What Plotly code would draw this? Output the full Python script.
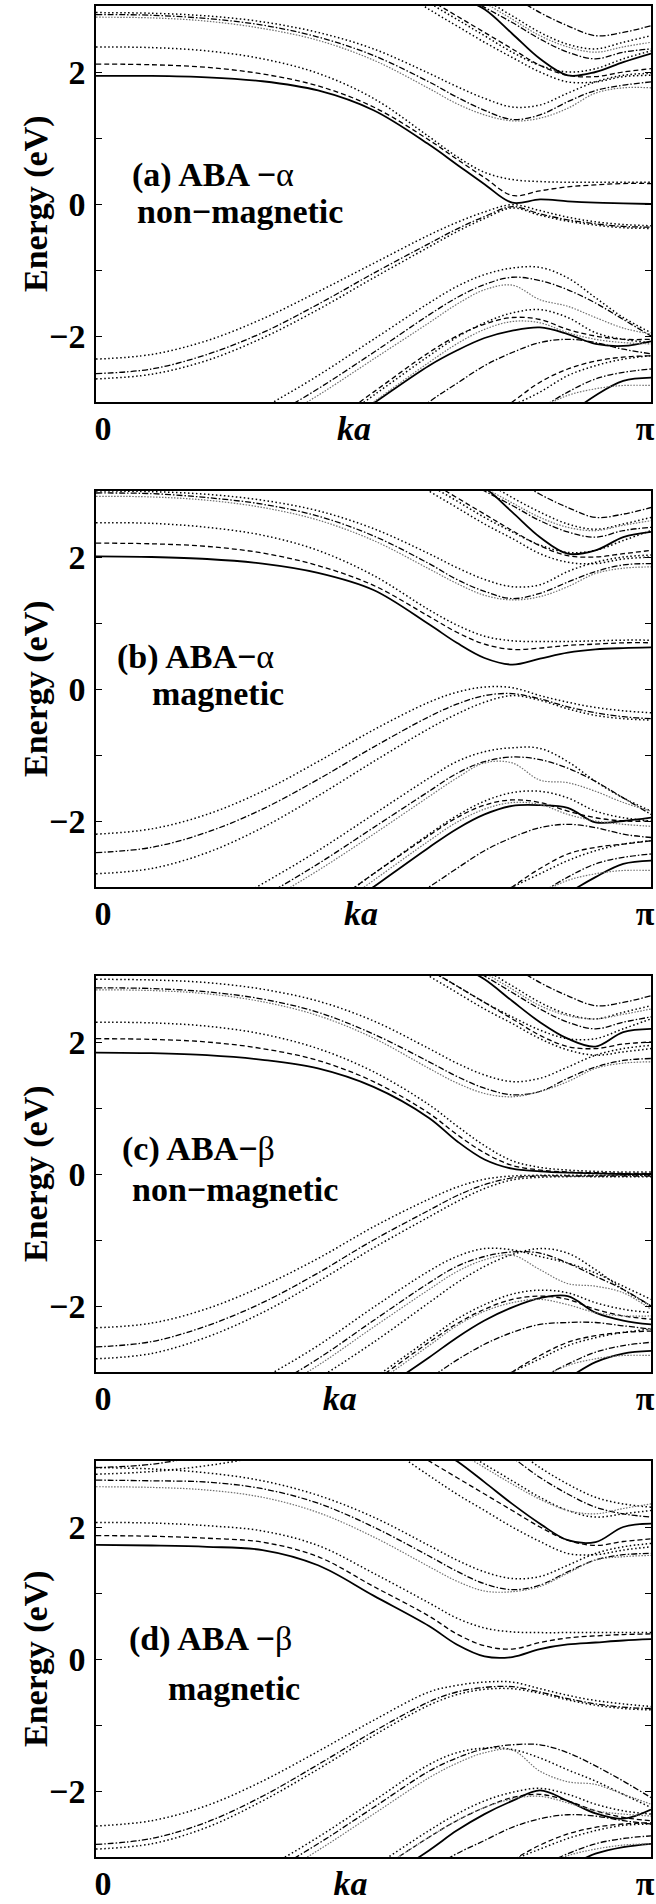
import math
import plotly.graph_objects as go
from plotly.subplots import make_subplots

# k grid in units of pi
K = [0, 0.1, 0.2, 0.3, 0.4, 0.5, 0.6, 0.65, 0.7, 0.75, 0.8, 0.85, 0.9, 0.95, 1.0]

# ---------------- panel (a) ABA-alpha non-magnetic ----------------
A_SOLID = [
    [1.94, 1.94, 1.92, 1.86, 1.72, 1.42, 0.9, 0.6, 0.3, 0.02, 0.07, 0.04, 0.02, 0.01, 0.0],
    [5.0, 4.9, 4.7, 4.4, 4.1, 3.75, 3.35, 3.15, 2.95, 2.58, 2.2, 1.95, 2.0, 2.15, 2.28],
    [-5.0, -4.7, -4.4, -4.05, -3.6, -3.02, -2.45, -2.22, -2.03, -1.92, -1.87, -1.97, -2.12, -2.15, -2.08],
    [-6.0, -5.8, -5.6, -5.4, -5.2, -4.9, -4.5, -4.3, -4.0, -3.75, -3.5, -3.2, -2.9, -2.68, -2.63],
]
A_DASH = [
    [2.12, 2.11, 2.07, 1.97, 1.79, 1.47, 0.97, 0.68, 0.4, 0.13, 0.2, 0.26, 0.29, 0.31, 0.31],
    [5.0, 4.85, 4.65, 4.4, 4.05, 3.6, 3.1, 2.85, 2.6, 2.35, 2.1, 1.95, 1.93, 2.0, 2.05],
    [-5.0, -4.7, -4.35, -3.95, -3.45, -2.85, -2.25, -2.0, -1.82, -1.72, -1.75, -1.9, -2.0, -2.05, -2.05],
    [-6.0, -5.8, -5.5, -5.2, -4.8, -4.4, -3.9, -3.6, -3.3, -3.0, -2.7, -2.5, -2.38, -2.32, -2.3],
]
A_DOT = [
    [2.38, 2.37, 2.32, 2.2, 1.98, 1.6, 1.02, 0.72, 0.48, 0.37, 0.34, 0.33, 0.33, 0.33, 0.33],
    [2.9, 2.89, 2.85, 2.76, 2.6, 2.35, 1.98, 1.78, 1.6, 1.47, 1.5, 1.68, 1.85, 1.95, 1.98],
    [5.0, 4.9, 4.7, 4.45, 4.1, 3.6, 3.05, 2.8, 2.55, 2.3, 2.1, 2.0, 2.05, 2.2, 2.32],
    [5.2, 5.0, 4.8, 4.5, 4.1, 3.5, 2.95, 2.7, 2.45, 2.22, 2.0, 1.85, 1.85, 1.93, 1.95],
    [6.0, 5.8, 5.5, 5.1, 4.6, 4.1, 3.6, 3.35, 3.1, 2.85, 2.6, 2.42, 2.35, 2.45, 2.55],
    [-2.35, -2.28, -2.07, -1.74, -1.33, -0.9, -0.47, -0.28, -0.12, -0.01, -0.1, -0.2, -0.27, -0.31, -0.33],
    [-2.65, -2.58, -2.37, -2.03, -1.6, -1.12, -0.65, -0.42, -0.22, -0.06, -0.17, -0.26, -0.32, -0.36, -0.37],
    [-4.2, -3.9, -3.6, -3.1, -2.6, -2.05, -1.5, -1.25, -1.07, -0.97, -0.96, -1.12, -1.42, -1.72, -1.95],
    [-5.0, -4.7, -4.4, -4.0, -3.5, -2.9, -2.3, -2.02, -1.8, -1.65, -1.6, -1.72, -1.95, -2.05, -2.1],
    [-6.0, -5.7, -5.4, -5.0, -4.6, -4.2, -3.7, -3.45, -3.2, -3.05, -2.85, -2.6, -2.45, -2.35, -2.3],
]
A_DASHDOT = [
    [2.87, 2.86, 2.81, 2.71, 2.53, 2.25, 1.85, 1.62, 1.42, 1.28, 1.35, 1.55, 1.72, 1.8, 1.85],
    [5.2, 5.0, 4.85, 4.6, 4.3, 3.9, 3.45, 3.22, 2.98, 2.75, 2.5, 2.3, 2.2, 2.3, 2.35],
    [6.3, 6.0, 5.7, 5.3, 4.9, 4.4, 3.9, 3.65, 3.4, 3.15, 2.9, 2.7, 2.55, 2.6, 2.7],
    [-2.57, -2.5, -2.28, -1.95, -1.52, -1.05, -0.6, -0.38, -0.19, -0.04, -0.15, -0.24, -0.3, -0.34, -0.35],
    [-4.4, -4.1, -3.8, -3.3, -2.8, -2.25, -1.68, -1.42, -1.22, -1.11, -1.16, -1.3, -1.5, -1.75, -2.0],
    [-6.0, -5.6, -5.2, -4.7, -4.2, -3.7, -3.0, -2.72, -2.45, -2.25, -2.1, -2.05, -2.1, -2.2, -2.27],
    [-6.5, -6.2, -5.9, -5.5, -5.1, -4.7, -4.2, -3.95, -3.65, -3.35, -3.1, -2.85, -2.65, -2.55, -2.5],
]
A_GREY = [
    [2.83, 2.82, 2.77, 2.66, 2.48, 2.18, 1.75, 1.52, 1.35, 1.26, 1.3, 1.45, 1.68, 1.76, 1.76],
    [5.2, 5.0, 4.85, 4.65, 4.4, 4.0, 3.55, 3.3, 3.05, 2.8, 2.55, 2.38, 2.3, 2.38, 2.45],
    [-4.5, -4.2, -3.9, -3.4, -2.9, -2.35, -1.8, -1.52, -1.3, -1.23, -1.45, -1.55, -1.72, -1.88, -1.97],
    [-5.2, -4.9, -4.55, -4.1, -3.6, -3.0, -2.4, -2.12, -1.9, -1.78, -1.8, -1.95, -2.05, -2.1, -2.12],
    [-6.5, -6.2, -5.9, -5.5, -5.1, -4.7, -4.2, -3.9, -3.6, -3.35, -3.1, -2.9, -2.8, -2.75, -2.75],
]

# ---------------- panel (b) ABA-alpha magnetic ----------------
B_SOLID = [
    [2.01, 2.0, 1.97, 1.9, 1.76, 1.5, 0.98, 0.7, 0.47, 0.37, 0.46, 0.55, 0.6, 0.62, 0.63],
    [5.0, 4.9, 4.7, 4.45, 4.15, 3.8, 3.45, 3.25, 3.05, 2.68, 2.3, 2.05, 2.1, 2.3, 2.38],
    [-5.0, -4.7, -4.4, -4.05, -3.6, -3.0, -2.4, -2.12, -1.9, -1.77, -1.76, -1.8, -2.02, -2.0, -1.95],
    [-6.0, -5.8, -5.6, -5.4, -5.2, -4.9, -4.5, -4.3, -4.0, -3.7, -3.4, -3.1, -2.85, -2.65, -2.6],
]
B_DASH = [
    [2.21, 2.2, 2.16, 2.06, 1.87, 1.57, 1.1, 0.86, 0.68, 0.6, 0.62, 0.66, 0.68, 0.7, 0.7],
    [5.0, 4.85, 4.65, 4.4, 4.05, 3.6, 3.15, 2.9, 2.65, 2.4, 2.17, 2.02, 2.0, 2.05, 2.1],
    [-5.0, -4.7, -4.35, -3.95, -3.4, -2.8, -2.22, -1.95, -1.76, -1.68, -1.72, -1.85, -1.95, -2.0, -2.0],
    [-6.0, -5.8, -5.5, -5.2, -4.8, -4.4, -3.9, -3.6, -3.3, -3.0, -2.72, -2.5, -2.4, -2.35, -2.3],
]
B_DOT = [
    [2.52, 2.51, 2.45, 2.33, 2.1, 1.72, 1.2, 0.97, 0.8, 0.73, 0.72, 0.72, 0.73, 0.74, 0.74],
    [3.0, 2.99, 2.95, 2.86, 2.7, 2.43, 2.05, 1.84, 1.66, 1.55, 1.58, 1.78, 1.92, 2.0, 2.03],
    [5.0, 4.9, 4.7, 4.45, 4.1, 3.65, 3.1, 2.85, 2.6, 2.38, 2.18, 2.07, 2.1, 2.25, 2.4],
    [5.2, 5.0, 4.8, 4.5, 4.1, 3.55, 3.0, 2.75, 2.5, 2.28, 2.05, 1.92, 1.9, 1.97, 2.0],
    [6.0, 5.8, 5.5, 5.1, 4.6, 4.1, 3.65, 3.4, 3.15, 2.9, 2.68, 2.5, 2.42, 2.5, 2.6],
    [-2.2, -2.12, -1.9, -1.55, -1.1, -0.62, -0.2, -0.05, 0.03, 0.02, -0.1, -0.2, -0.28, -0.33, -0.36],
    [-2.8, -2.72, -2.48, -2.1, -1.62, -1.1, -0.6, -0.38, -0.2, -0.1, -0.17, -0.3, -0.4, -0.45, -0.47],
    [-4.0, -3.7, -3.4, -2.95, -2.45, -1.9, -1.35, -1.1, -0.95, -0.89, -0.9, -1.1, -1.4, -1.65, -1.85],
    [-5.0, -4.7, -4.35, -3.9, -3.4, -2.8, -2.2, -1.92, -1.7, -1.57, -1.55, -1.65, -1.85, -1.95, -2.0],
    [-6.0, -5.7, -5.4, -5.0, -4.6, -4.2, -3.7, -3.45, -3.2, -3.0, -2.8, -2.6, -2.45, -2.35, -2.3],
]
B_DASHDOT = [
    [2.97, 2.96, 2.9, 2.8, 2.62, 2.32, 1.9, 1.66, 1.48, 1.37, 1.45, 1.62, 1.78, 1.88, 1.9],
    [5.2, 5.0, 4.85, 4.6, 4.3, 3.9, 3.45, 3.22, 3.0, 2.78, 2.55, 2.38, 2.3, 2.4, 2.45],
    [6.3, 6.0, 5.7, 5.3, 4.9, 4.4, 3.95, 3.7, 3.45, 3.2, 2.95, 2.75, 2.6, 2.65, 2.75],
    [-2.48, -2.4, -2.17, -1.82, -1.37, -0.88, -0.42, -0.23, -0.1, -0.07, -0.15, -0.27, -0.36, -0.42, -0.45],
    [-4.2, -3.9, -3.6, -3.15, -2.65, -2.1, -1.55, -1.28, -1.1, -1.03, -1.07, -1.2, -1.4, -1.65, -1.9],
    [-6.0, -5.5, -5.0, -4.5, -4.0, -3.5, -3.0, -2.72, -2.45, -2.25, -2.1, -2.05, -2.1, -2.2, -2.25],
    [-6.5, -6.2, -5.9, -5.5, -5.1, -4.7, -4.2, -3.95, -3.65, -3.35, -3.1, -2.85, -2.65, -2.55, -2.5],
]
B_GREY = [
    [2.92, 2.91, 2.86, 2.75, 2.56, 2.25, 1.82, 1.6, 1.42, 1.35, 1.4, 1.55, 1.75, 1.83, 1.85],
    [5.2, 5.0, 4.85, 4.65, 4.4, 4.0, 3.55, 3.3, 3.05, 2.82, 2.6, 2.45, 2.4, 2.48, 2.55],
    [-4.3, -4.0, -3.7, -3.25, -2.75, -2.2, -1.63, -1.35, -1.12, -1.12, -1.38, -1.42, -1.55, -1.72, -1.85],
    [-5.1, -4.8, -4.45, -4.0, -3.5, -2.9, -2.3, -2.02, -1.82, -1.72, -1.75, -1.9, -2.0, -2.05, -2.08],
    [-6.5, -6.2, -5.9, -5.5, -5.1, -4.7, -4.2, -3.9, -3.6, -3.35, -3.1, -2.9, -2.8, -2.75, -2.75],
]

# ---------------- panel (c) ABA-beta non-magnetic ----------------
C_SOLID = [
    [1.84, 1.83, 1.8, 1.73, 1.6, 1.32, 0.85, 0.5, 0.22, 0.08, 0.04, 0.02, 0.01, 0.0, 0.0],
    [5.0, 4.9, 4.7, 4.45, 4.15, 3.8, 3.4, 3.18, 2.95, 2.62, 2.3, 2.05, 1.93, 2.15, 2.2],
    [-5.5, -5.2, -4.8, -4.4, -3.9, -3.35, -2.78, -2.48, -2.22, -2.02, -1.88, -1.85, -2.1, -2.22, -2.28],
    [-6.0, -5.8, -5.6, -5.4, -5.2, -4.9, -4.5, -4.3, -4.0, -3.7, -3.4, -3.1, -2.85, -2.72, -2.68],
]
C_DASH = [
    [2.05, 2.04, 2.0, 1.9, 1.72, 1.4, 0.92, 0.6, 0.32, 0.13, 0.06, 0.03, 0.02, 0.01, 0.01],
    [5.0, 4.85, 4.65, 4.4, 4.05, 3.6, 3.1, 2.85, 2.6, 2.35, 2.1, 1.93, 1.9, 1.97, 2.0],
    [-5.3, -5.0, -4.65, -4.25, -3.75, -3.15, -2.55, -2.27, -2.05, -1.9, -1.85, -1.9, -2.05, -2.15, -2.2],
    [-6.0, -5.8, -5.5, -5.2, -4.8, -4.4, -3.9, -3.6, -3.3, -3.0, -2.75, -2.55, -2.45, -2.4, -2.38],
]
C_DOT = [
    [2.3, 2.29, 2.24, 2.12, 1.9, 1.55, 1.05, 0.73, 0.43, 0.2, 0.1, 0.06, 0.04, 0.03, 0.03],
    [2.95, 2.94, 2.9, 2.8, 2.62, 2.32, 1.9, 1.68, 1.5, 1.4, 1.45, 1.62, 1.8, 1.9, 1.95],
    [5.0, 4.9, 4.7, 4.45, 4.1, 3.65, 3.1, 2.85, 2.6, 2.38, 2.18, 2.05, 2.05, 2.2, 2.35],
    [5.2, 5.0, 4.8, 4.5, 4.1, 3.55, 3.0, 2.75, 2.5, 2.28, 2.05, 1.88, 1.8, 1.85, 1.9],
    [6.0, 5.8, 5.5, 5.1, 4.6, 4.1, 3.6, 3.35, 3.1, 2.85, 2.6, 2.42, 2.35, 2.45, 2.55],
    [-2.33, -2.26, -2.04, -1.7, -1.28, -0.8, -0.38, -0.2, -0.08, -0.03, -0.02, -0.02, -0.02, -0.02, -0.02],
    [-2.8, -2.72, -2.47, -2.1, -1.63, -1.12, -0.65, -0.42, -0.22, -0.09, -0.05, -0.04, -0.04, -0.04, -0.04],
    [-4.2, -3.9, -3.55, -3.1, -2.6, -2.02, -1.47, -1.25, -1.13, -1.15, -1.25, -1.35, -1.5, -1.7, -1.9],
    [-4.6, -4.3, -4.0, -3.6, -3.1, -2.55, -1.95, -1.65, -1.4, -1.22, -1.13, -1.2, -1.45, -1.75, -2.0],
    [-5.3, -5.0, -4.6, -4.2, -3.7, -3.1, -2.5, -2.2, -1.98, -1.82, -1.76, -1.8, -1.95, -2.05, -2.1],
    [-6.0, -5.7, -5.4, -5.0, -4.6, -4.2, -3.7, -3.45, -3.2, -3.0, -2.8, -2.6, -2.48, -2.4, -2.35],
]
C_DASHDOT = [
    [2.82, 2.81, 2.76, 2.65, 2.45, 2.12, 1.7, 1.48, 1.3, 1.2, 1.25, 1.45, 1.62, 1.72, 1.75],
    [5.2, 5.0, 4.85, 4.6, 4.3, 3.9, 3.45, 3.22, 3.0, 2.75, 2.5, 2.3, 2.2, 2.3, 2.38],
    [6.3, 6.0, 5.7, 5.3, 4.9, 4.4, 3.9, 3.65, 3.4, 3.15, 2.9, 2.7, 2.55, 2.6, 2.7],
    [-2.62, -2.54, -2.3, -1.95, -1.5, -1.0, -0.55, -0.33, -0.16, -0.06, -0.03, -0.03, -0.03, -0.03, -0.03],
    [-4.4, -4.1, -3.75, -3.3, -2.8, -2.22, -1.65, -1.4, -1.25, -1.18, -1.2, -1.35, -1.55, -1.75, -2.0],
    [-6.0, -5.5, -5.1, -4.6, -4.1, -3.6, -3.1, -2.82, -2.58, -2.4, -2.28, -2.25, -2.25, -2.3, -2.35],
    [-6.5, -6.2, -5.9, -5.5, -5.1, -4.7, -4.2, -3.95, -3.65, -3.35, -3.1, -2.88, -2.7, -2.6, -2.55],
]
C_GREY = [
    [2.79, 2.78, 2.73, 2.61, 2.4, 2.06, 1.6, 1.38, 1.22, 1.17, 1.25, 1.4, 1.6, 1.68, 1.7],
    [5.2, 5.0, 4.85, 4.65, 4.4, 4.0, 3.55, 3.3, 3.05, 2.8, 2.55, 2.4, 2.35, 2.42, 2.5],
    [-4.5, -4.2, -3.85, -3.4, -2.9, -2.32, -1.75, -1.48, -1.3, -1.23, -1.45, -1.66, -1.7, -1.8, -2.05],
    [-5.4, -5.1, -4.75, -4.3, -3.8, -3.2, -2.6, -2.3, -2.08, -1.95, -1.9, -1.98, -2.1, -2.15, -2.15],
    [-6.5, -6.2, -5.9, -5.5, -5.1, -4.7, -4.2, -3.9, -3.6, -3.35, -3.1, -2.9, -2.8, -2.75, -2.75],
]

# ---------------- panel (d) ABA-beta magnetic ----------------
D_SOLID = [
    [1.73, 1.72, 1.7, 1.65, 1.42, 0.96, 0.5, 0.22, 0.04, 0.03, 0.15, 0.22, 0.25, 0.28, 0.3],
    [5.0, 4.9, 4.7, 4.45, 4.1, 3.7, 3.25, 3.0, 2.68, 2.35, 2.05, 1.8, 1.77, 2.0, 2.05],
    [-5.5, -5.2, -4.8, -4.4, -3.95, -3.45, -2.9, -2.6, -2.35, -2.15, -1.99, -2.15, -2.34, -2.42, -2.28],
    [-6.0, -5.8, -5.6, -5.4, -5.2, -4.9, -4.5, -4.3, -4.0, -3.7, -3.4, -3.15, -2.95, -2.85, -2.8],
]
D_DASH = [
    [1.87, 1.86, 1.83, 1.77, 1.55, 1.1, 0.65, 0.38, 0.2, 0.15, 0.25, 0.32, 0.35, 0.37, 0.38],
    [5.0, 4.85, 4.65, 4.35, 3.95, 3.5, 3.0, 2.75, 2.5, 2.25, 2.0, 1.8, 1.72, 1.78, 1.82],
    [-5.4, -5.1, -4.7, -4.3, -3.8, -3.25, -2.7, -2.45, -2.25, -2.1, -2.05, -2.15, -2.3, -2.4, -2.45],
    [-6.0, -5.8, -5.5, -5.2, -4.8, -4.4, -3.9, -3.6, -3.3, -3.05, -2.82, -2.65, -2.55, -2.5, -2.48],
]
D_DOT = [
    [2.07, 2.06, 2.02, 1.94, 1.72, 1.3, 0.85, 0.62, 0.47, 0.41, 0.4, 0.4, 0.4, 0.4, 0.4],
    [2.9, 2.88, 2.82, 2.7, 2.48, 2.15, 1.72, 1.5, 1.32, 1.22, 1.25, 1.42, 1.6, 1.7, 1.75],
    [2.8, 2.84, 2.93, 3.07, 3.25, 3.4, 3.5, 3.5, 3.4, 3.2, 2.9, 2.65, 2.45, 2.35, 2.3],
    [5.2, 5.0, 4.7, 4.35, 3.9, 3.35, 2.78, 2.5, 2.25, 2.0, 1.78, 1.6, 1.58, 1.65, 1.7],
    [6.0, 5.8, 5.5, 5.1, 4.6, 4.0, 3.45, 3.2, 2.95, 2.7, 2.45, 2.25, 2.15, 2.2, 2.25],
    [-2.53, -2.45, -2.22, -1.85, -1.4, -0.93, -0.5, -0.4, -0.35, -0.35, -0.45, -0.55, -0.63, -0.68, -0.72],
    [-2.88, -2.8, -2.55, -2.15, -1.67, -1.16, -0.7, -0.54, -0.46, -0.45, -0.52, -0.62, -0.7, -0.75, -0.77],
    [-4.3, -4.0, -3.65, -3.2, -2.7, -2.15, -1.6, -1.42, -1.35, -1.37, -1.5, -1.68, -1.85, -2.05, -2.25],
    [-5.3, -5.0, -4.6, -4.2, -3.7, -3.15, -2.6, -2.35, -2.15, -2.02, -1.96, -2.05, -2.2, -2.3, -2.35],
    [-6.0, -5.7, -5.4, -5.0, -4.6, -4.2, -3.75, -3.5, -3.25, -3.05, -2.88, -2.72, -2.6, -2.52, -2.5],
]
D_DASHDOT = [
    [2.71, 2.7, 2.68, 2.58, 2.36, 2.0, 1.56, 1.33, 1.14, 1.05, 1.12, 1.32, 1.5, 1.58, 1.6],
    [2.9, 2.95, 3.1, 3.3, 3.5, 3.6, 3.6, 3.5, 3.3, 3.05, 2.75, 2.5, 2.3, 2.2, 2.15],
    [-2.81, -2.72, -2.47, -2.08, -1.6, -1.1, -0.65, -0.5, -0.43, -0.42, -0.5, -0.6, -0.68, -0.73, -0.75],
    [-4.4, -4.1, -3.75, -3.3, -2.8, -2.25, -1.7, -1.5, -1.36, -1.3, -1.3, -1.42, -1.62, -1.85, -2.1],
    [-6.0, -5.6, -5.2, -4.7, -4.2, -3.7, -3.2, -2.95, -2.75, -2.55, -2.42, -2.36, -2.38, -2.45, -2.5],
    [-6.5, -6.2, -5.9, -5.5, -5.1, -4.7, -4.25, -4.0, -3.7, -3.4, -3.15, -2.95, -2.8, -2.72, -2.68],
]
D_GREY = [
    [2.61, 2.6, 2.56, 2.45, 2.22, 1.85, 1.4, 1.18, 1.03, 1.02, 1.1, 1.3, 1.5, 1.55, 1.57],
    [5.2, 5.0, 4.8, 4.55, 4.25, 3.85, 3.4, 3.15, 2.9, 2.65, 2.42, 2.25, 2.2, 2.28, 2.35],
    [-4.5, -4.2, -3.85, -3.4, -2.9, -2.35, -1.8, -1.58, -1.42, -1.38, -1.7, -1.86, -1.9, -2.05, -2.2],
    [-5.4, -5.1, -4.75, -4.3, -3.8, -3.25, -2.7, -2.45, -2.25, -2.12, -2.08, -2.18, -2.3, -2.35, -2.38],
    [-6.5, -6.2, -5.9, -5.5, -5.1, -4.7, -4.25, -3.95, -3.65, -3.4, -3.15, -2.98, -2.88, -2.82, -2.8],
]

# labels
LABEL_LINE1 = ["(a) ABA \u2212", "(b) ABA\u2212", "(c) ABA\u2212", "(d) ABA \u2212"]
LABEL_GREEK = ["\u03b1", "\u03b1", "\u03b2", "\u03b2"]
LABEL_LINE2 = ["non\u2212magnetic", "magnetic", "non\u2212magnetic", "magnetic"]
Y_TITLE = "Energy (eV)"
Y_TICKS = [-2, -1, 0, 1, 2]
Y_TICKTEXT = ["\u22122", "", "0", "", "2"]
X_TICKTEXT = ["0", "<i>ka</i>", "\u03c0"]
KA_POS = [1.46, 1.5, 1.38, 1.44]

PANELS = [
    {"solid": A_SOLID, "dash": A_DASH, "dot": A_DOT, "dashdot": A_DASHDOT, "grey": A_GREY},
    {"solid": B_SOLID, "dash": B_DASH, "dot": B_DOT, "dashdot": B_DASHDOT, "grey": B_GREY},
    {"solid": C_SOLID, "dash": C_DASH, "dot": C_DOT, "dashdot": C_DASHDOT, "grey": C_GREY},
    {"solid": D_SOLID, "dash": D_DASH, "dot": D_DOT, "dashdot": D_DASHDOT, "grey": D_GREY},
]

STYLE = {
    "solid": dict(color="black", width=1.8, dash="solid"),
    "dash": dict(color="black", width=1.3, dash="5px,3px"),
    "dot": dict(color="black", width=1.5, dash="1.5px,2.5px"),
    "dashdot": dict(color="black", width=1.3, dash="6px,2px,1.5px,2px"),
    "grey": dict(color="#6e6e6e", width=1.2, dash="1.5px,1.5px"),
}

FONT = "Liberation Serif, Times New Roman, Times, serif"
FS = 34

W, H = 656, 1904
ML, MR, MT, MB = 96, 5, 6, 47
PLOT_W = W - ML - MR
PLOT_H = H - MT - MB
GAP = 89

fig = make_subplots(rows=4, cols=1, vertical_spacing=GAP / PLOT_H)

X = [k * math.pi for k in K]
for r, panel in enumerate(PANELS, start=1):
    for sname, bands in panel.items():
        for band in bands:
            fig.add_trace(
                go.Scatter(x=X, y=band, mode="lines",
                           line=dict(shape="spline", smoothing=1.0, **STYLE[sname]),
                           showlegend=False, hoverinfo="skip"),
                row=r, col=1)

# label positions (axis-domain fractions)
L1_POS = [(0.061, 0.574), (0.034, 0.58), (0.043, 0.563), (0.056, 0.55)]
L2_POS = [(0.07, 0.481), (0.097, 0.488), (0.061, 0.461), (0.126, 0.425)]
TITLE_X = (36 - ML) / PLOT_W

for r in range(1, 5):
    xa = "x" if r == 1 else f"x{r}"
    ya = "y" if r == 1 else f"y{r}"
    fig.update_xaxes(
        range=[0, math.pi], showline=True, linecolor="black", linewidth=1.5,
        mirror=True, ticks="", showgrid=False, zeroline=False,
        tickvals=[0.04, KA_POS[r - 1], 3.108],
        ticktext=[f"<b>{t}</b>" for t in X_TICKTEXT],
        tickfont=dict(family=FONT, size=FS, color="black"),
        ticklabelstandoff=-5,
        row=r, col=1)
    fig.update_yaxes(
        range=[-3, 3], showline=True, linecolor="black", linewidth=1.5,
        mirror="ticks", ticks="inside", ticklen=6, tickwidth=1, tickcolor="black",
        showgrid=False, zeroline=False,
        tickvals=Y_TICKS, ticktext=[f"<b>{t}</b>" if t else "" for t in Y_TICKTEXT],
        tickfont=dict(family=FONT, size=FS, color="black"),
        ticklabelstandoff=2,
        row=r, col=1)
    fig.add_annotation(
        x=TITLE_X, y=0.5, xref="paper", yref=f"{ya} domain",
        text=f"<b>{Y_TITLE}</b>", textangle=-90, showarrow=False,
        xanchor="center", yanchor="middle",
        font=dict(family=FONT, size=FS, color="black"))
    x1, y1 = L1_POS[r - 1]
    x2, y2 = L2_POS[r - 1]
    fig.add_annotation(
        x=x1, y=y1, xref=f"{xa} domain", yref=f"{ya} domain",
        text=f"<b>{LABEL_LINE1[r - 1]}</b>{LABEL_GREEK[r - 1]}",
        showarrow=False, xanchor="left", yanchor="middle",
        font=dict(family=FONT, size=FS, color="black"))
    fig.add_annotation(
        x=x2, y=y2, xref=f"{xa} domain", yref=f"{ya} domain",
        text=f"<b>{LABEL_LINE2[r - 1]}</b>",
        showarrow=False, xanchor="left", yanchor="middle",
        font=dict(family=FONT, size=FS, color="black"))

fig.update_layout(
    width=W, height=H,
    margin=dict(l=ML, r=MR, t=MT, b=MB, autoexpand=False),
    paper_bgcolor="white", plot_bgcolor="white",
    showlegend=False,
)

fig.write_html("out.html")
